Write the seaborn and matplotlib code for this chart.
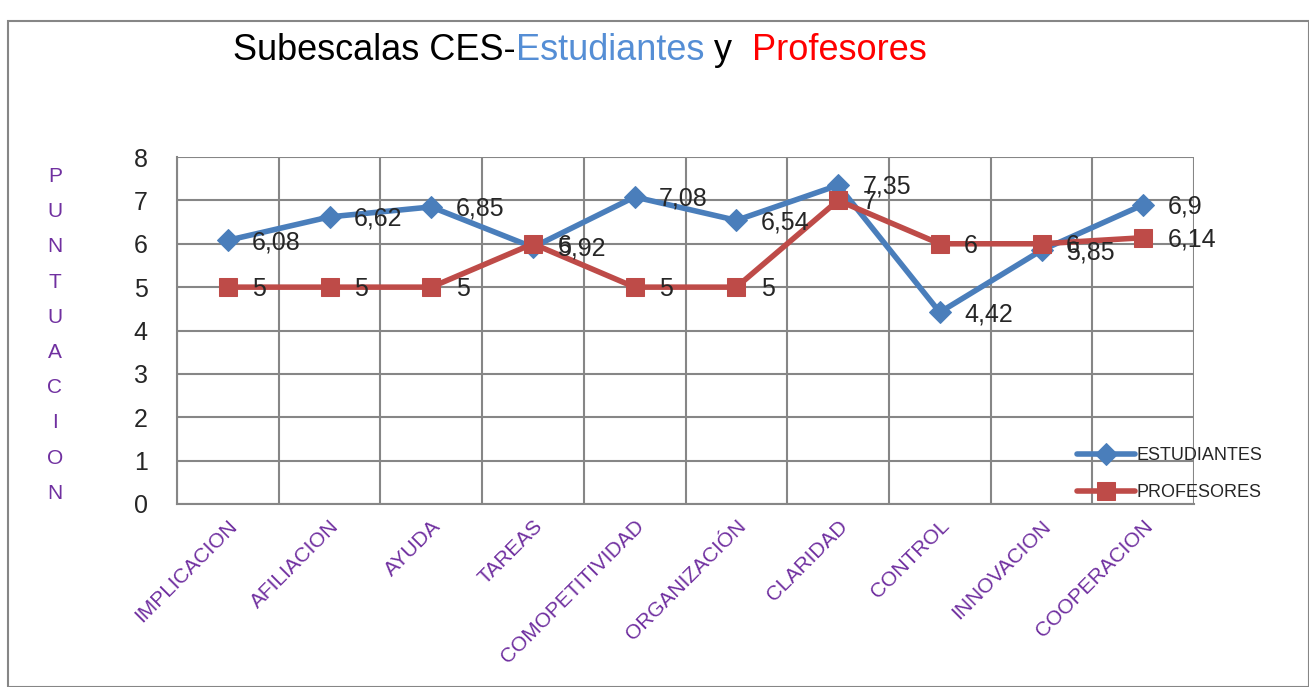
import numpy as np
import pandas as pd
import seaborn as sns
import matplotlib.pyplot as plt
from matplotlib.patches import Rectangle

categorias = ['IMPLICACION', 'AFILIACION', 'AYUDA', 'TAREAS', 'COMOPETITIVIDAD',
              'ORGANIZACIÓN', 'CLARIDAD', 'CONTROL', 'INNOVACION', 'COOPERACION']
estudiantes = [6.08, 6.62, 6.85, 5.92, 7.08, 6.54, 7.35, 4.42, 5.85, 6.9]
profesores = [5, 5, 5, 6, 5, 5, 7, 6, 6, 6.14]

azul = '#4A7EBB'
rojo = '#BE4B48'
morado = '#7030A0'
gris = '#868686'

sns.set_style('white')
plt.rcParams['font.family'] = ['Liberation Sans', 'DejaVu Sans']

df = pd.DataFrame({'pos': np.arange(len(categorias)),
                   'ESTUDIANTES': estudiantes,
                   'PROFESORES': profesores})

fig = plt.figure(figsize=(13.09, 6.87), dpi=100)
ax = fig.add_axes([0.1352, 0.2664, 0.777, 0.505])

sns.lineplot(data=df, x='pos', y='ESTUDIANTES', color=azul, lw=4, marker='D',
             markersize=11, markeredgecolor=azul, label='ESTUDIANTES', ax=ax, zorder=3)
sns.lineplot(data=df, x='pos', y='PROFESORES', color=rojo, lw=4, marker='s',
             markersize=13, markeredgecolor=rojo, label='PROFESORES', ax=ax, zorder=4)

# etiquetas de datos
for serie in (estudiantes, profesores):
    for i, v in enumerate(serie):
        ax.text(i + 0.24, v - 0.04, f'{v:g}'.replace('.', ','), fontsize=18,
                va='center', ha='left', zorder=5)

ax.set_xlim(-0.5, len(categorias) - 0.5)
ax.set_ylim(0, 8)
ax.set_yticks(range(0, 9))
ax.set_xticks(np.arange(-0.5, len(categorias)))
ax.set_xticklabels([])
ax.set_xticks(np.arange(len(categorias)), minor=True)
ax.set_xticklabels(categorias, minor=True, rotation=45, ha='right', rotation_mode='anchor',
                   color=morado, fontsize=15)
ax.tick_params(axis='x', which='minor', length=0, pad=9)
ax.tick_params(axis='x', which='major', length=7, width=1.5, color=gris, direction='out')
ax.tick_params(axis='y', length=7, width=1.5, color=gris, direction='out', labelsize=18, pad=14)
ax.grid(True, which='major', color=gris, lw=1.5)
for s in ax.spines.values():
    s.set_visible(False)
for lado in ('left', 'bottom'):
    ax.spines[lado].set_visible(True)
    ax.spines[lado].set_color(gris)
    ax.spines[lado].set_linewidth(1.5)
ax.set_xlabel('')
ax.set_ylabel('')

fig.text(0.042, 1 - 335 / 687, '\n'.join('PUNTUACION'), color=morado, fontsize=15,
         ha='center', va='center', linespacing=2.08)

# titulo en varios colores
partes = [('Subescalas CES-', 'black'), ('Estudiantes', '#558ED5'), (' y  ', 'black'), ('Profesores', 'red')]
x0 = 233
r = fig.canvas.get_renderer()
for txt, col in partes:
    t = fig.text(x0 / 1309, 1 - 51 / 687, txt, color=col, fontsize=26, va='center', ha='left')
    x0 += t.get_window_extent(renderer=r).width

leg = ax.legend(loc='upper left', bbox_to_anchor=(0.878, 0.185), frameon=False, fontsize=13,
                handlelength=3.2, handletextpad=0.1, labelspacing=1.1, borderaxespad=0)

fig.patches.append(Rectangle((8 / 1309, 0), 1 - 8 / 1309, 1 - 21 / 687, transform=fig.transFigure,
                             fill=False, edgecolor=gris, lw=1.5))

fig.savefig('out.png', dpi=100)
